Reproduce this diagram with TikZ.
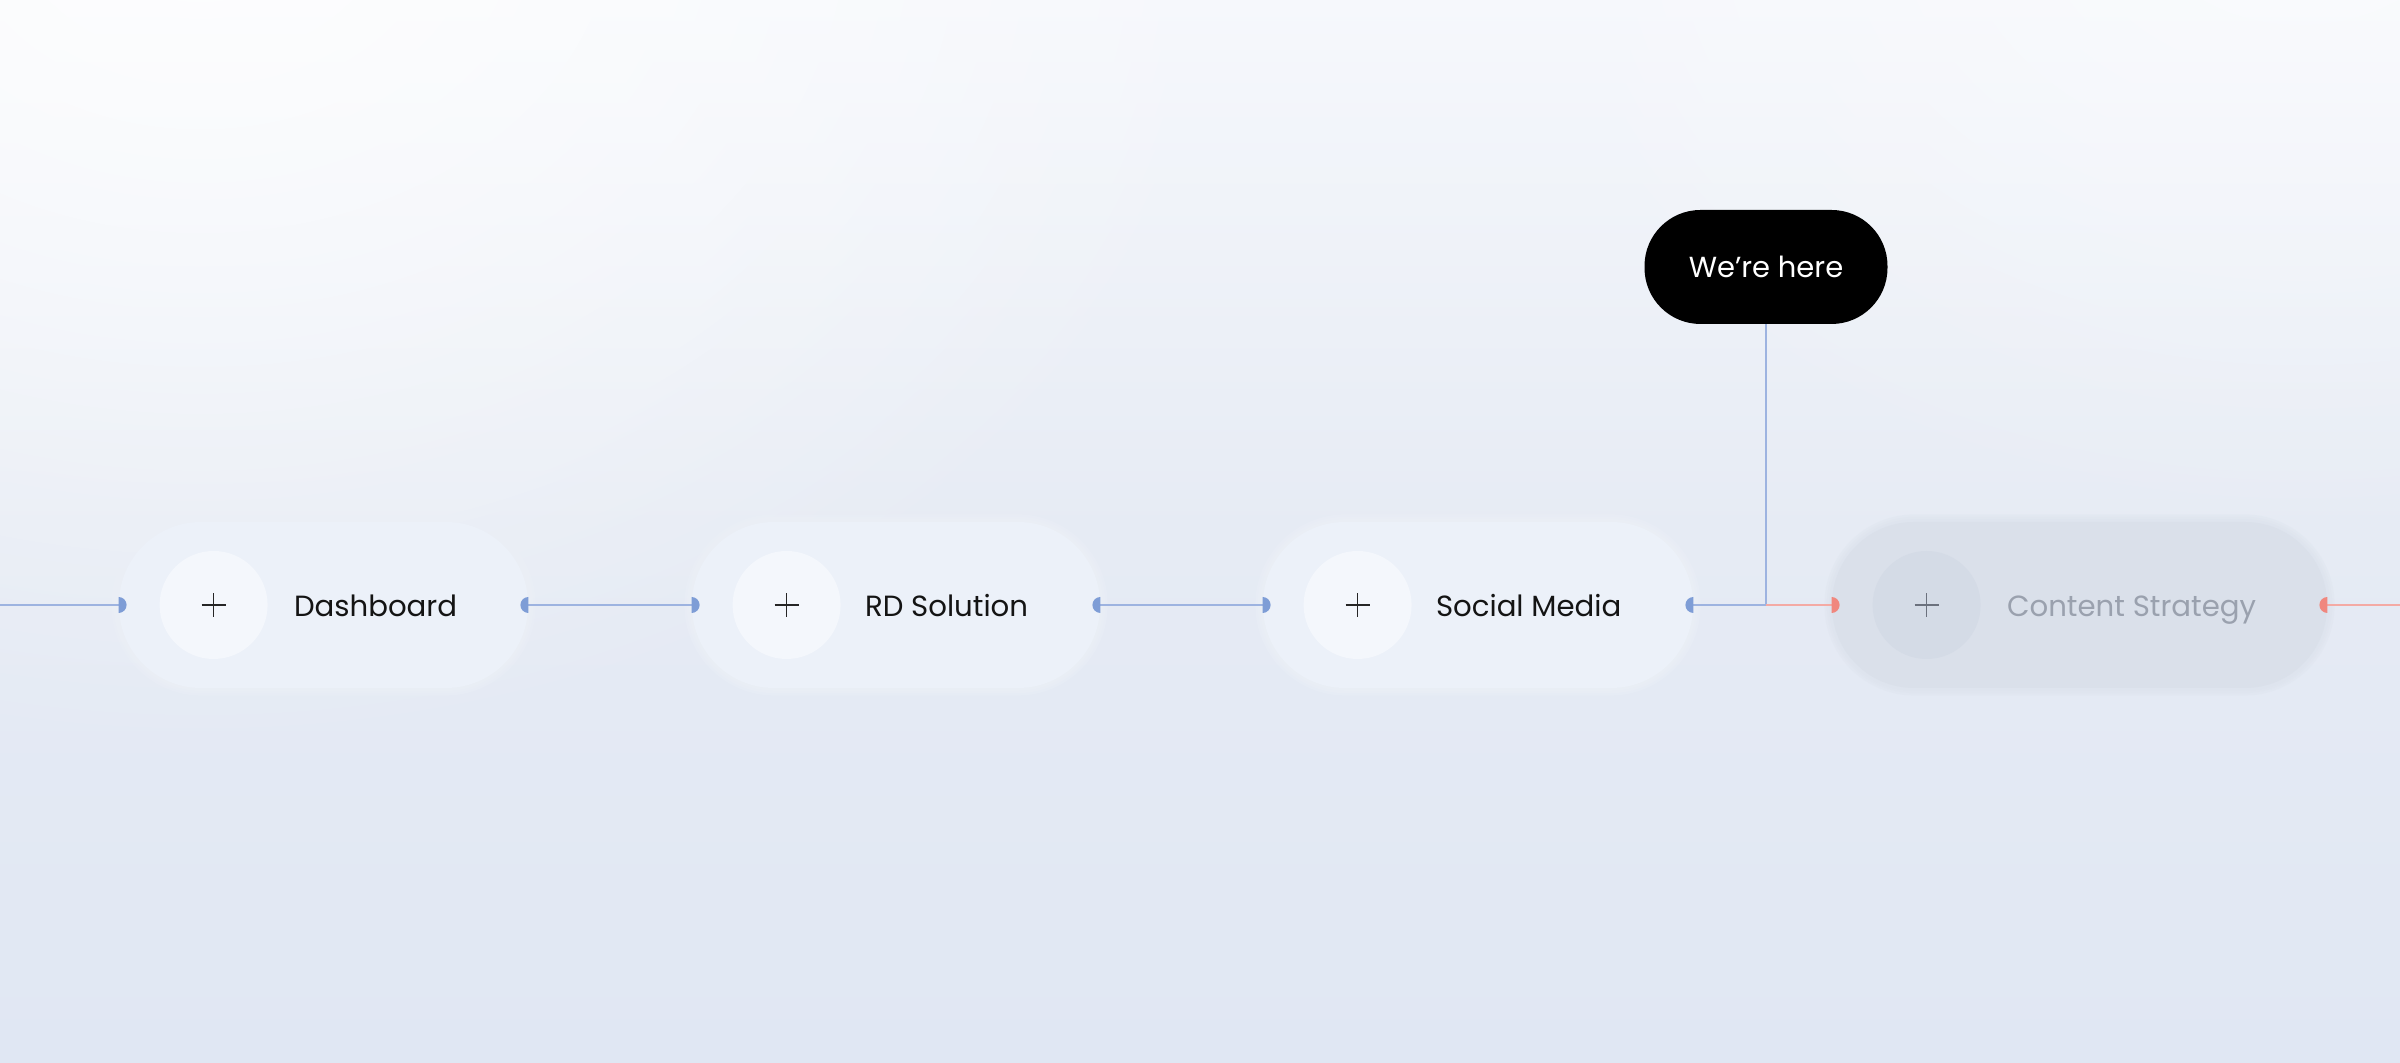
\documentclass[tikz,border=0pt]{standalone}
\usepackage{fontspec}
\setmainfont{Poppins}
\usetikzlibrary{fadings}
\definecolor{bgtop}{HTML}{F6F8FC}
\definecolor{bgmid}{HTML}{E6EBF4}
\definecolor{bgbot}{HTML}{E0E7F3}
\definecolor{pillfill}{HTML}{ECF1F9}
\definecolor{halofill}{HTML}{EDF1F8}
\definecolor{circfill}{HTML}{F4F7FC}
\definecolor{dimpill}{HTML}{DAE0EA}
\definecolor{dimhalo}{HTML}{DCE2EC}
\definecolor{dimcirc}{HTML}{D4DBE6}
\definecolor{dimtext}{HTML}{9AA1AE}
\definecolor{dimplus}{HTML}{6B717D}
\definecolor{lineblue}{HTML}{9DB3E0}
\definecolor{dotblue}{HTML}{7E9DD6}
\definecolor{linered}{HTML}{F4AAA4}
\definecolor{dotred}{HTML}{F0877E}
\pgfdeclarelayer{back}
\pgfdeclarelayer{halo}
\pgfsetlayers{back,halo,main}
\tikzfading[name=glowfade, inner color=transparent!0, outer color=transparent!100]
\newcommand\westdot[2]{\fill[#2] ([yshift=4pt]#1) arc[start angle=90,end angle=-90,radius=4pt] -- cycle;}
\newcommand\eastdot[2]{\fill[#2] ([yshift=4pt]#1) arc[start angle=90,end angle=270,radius=4pt] -- cycle;}
\newcommand\pillhalo[2]{%
  \begin{pgfonlayer}{halo}
  \foreach \g in {1.2,2.4,3.6}{%
    \fill[#2, opacity=0.3, rounded corners={41.5pt+\g pt}]
      ([xshift=-\g pt, yshift=-\g pt]#1.south west) rectangle ([xshift=\g pt, yshift=\g pt]#1.north east);}
  \end{pgfonlayer}}
\tikzset{
  pill/.style={draw=none, fill=pillfill, rounded corners=41pt, minimum height=83pt, inner sep=0pt},
  dimmed/.style={fill=dimpill},
  iconcirc/.style={circle, fill=circfill, minimum size=54pt, inner sep=0pt},
  dimcircle/.style={fill=dimcirc},
  plusline/.style={line width=0.8pt, draw=black!85},
  pilltext/.style={anchor=base west, inner sep=0pt, font=\fontsize{14.6}{17}\selectfont, text=black!92},
  herebox/.style={fill=black, text=white, rounded corners=28pt, minimum width=121.5pt, minimum height=57pt,
    inner sep=0pt, font=\fontsize{14.5}{17}\selectfont},
  bl/.style={draw=lineblue, line width=0.9pt},
  rl/.style={draw=linered, line width=0.9pt},
}
\begin{document}
\begin{tikzpicture}[x=0.5pt,y=0.5pt]
\useasboundingbox (0,0) rectangle (2400,1063);
\begin{pgfonlayer}{back}
\shade[top color=bgtop, bottom color=bgbot, middle color=bgmid] (0,0) rectangle (2400,1063);
\fill[white, opacity=0.8, path fading=glowfade] (-900,300) rectangle (1300,2000);
\fill[white, opacity=0.4, path fading=glowfade] (1400,500) rectangle (3200,1800);
\end{pgfonlayer}

% pills
\node[pill, minimum width=204.5pt] (p1) at (323.5,458) {};
\node[pill, minimum width=204pt] (p2) at (896,458) {};
\node[pill, minimum width=215pt] (p3) at (1478,458) {};
\node[pill, dimmed, minimum width=247.5pt] (p4) at (2079.5,458) {};
\pillhalo{p1}{halofill}
\pillhalo{p2}{halofill}
\pillhalo{p3}{halofill}
\pillhalo{p4}{dimhalo}

% icon circles
\node[iconcirc] (c1) at ([xshift=47.5pt]p1.west) {};
\node[iconcirc] (c2) at ([xshift=47.5pt]p2.west) {};
\node[iconcirc] (c3) at ([xshift=47.5pt]p3.west) {};
\node[iconcirc, dimcircle] (c4) at ([xshift=47.5pt]p4.west) {};
\foreach \c in {c1,c2,c3}{
  \draw[plusline] ([xshift=-6pt]\c.center) -- ([xshift=6pt]\c.center);
  \draw[plusline] ([yshift=-6pt]\c.center) -- ([yshift=6pt]\c.center);
}
\draw[plusline, draw=dimplus] ([xshift=-6pt]c4.center) -- ([xshift=6pt]c4.center);
\draw[plusline, draw=dimplus] ([yshift=-6pt]c4.center) -- ([yshift=6pt]c4.center);

% labels
\node[pilltext] (t1) at ([xshift=87.5pt,yshift=-6pt]p1.west) {Dashboard};
\node[pilltext] (t2) at ([xshift=86.5pt,yshift=-6pt]p2.west) {RD Solution};
\node[pilltext] (t3) at ([xshift=86.5pt,yshift=-6pt]p3.west) {Social Media};
\node[pilltext, text=dimtext] (t4) at ([xshift=87.5pt,yshift=-6pt]p4.west) {Content Strategy};

% we're here
\node[herebox] (here) at (1766,796) {We’re here};
\coordinate (j) at (here.south |- p3.east);
\coordinate (lstart) at (0,458);
\coordinate (rend) at (2400,458);

% connectors
\draw[bl] (lstart) -- (p1.west);
\draw[bl] (p1.east) -- (p2.west);
\draw[bl] (p2.east) -- (p3.west);
\draw[bl] (p3.east) -- (j);
\draw[bl] (here.south) -- (j);
\draw[rl] (j) -- (p4.west);
\draw[rl] (p4.east) -- (rend);

% end markers
\westdot{p1.west}{dotblue}
\westdot{p2.west}{dotblue}
\westdot{p3.west}{dotblue}
\westdot{p4.west}{dotred}
\eastdot{p1.east}{dotblue}
\eastdot{p2.east}{dotblue}
\eastdot{p3.east}{dotblue}
\eastdot{p4.east}{dotred}
\end{tikzpicture}
\end{document}
